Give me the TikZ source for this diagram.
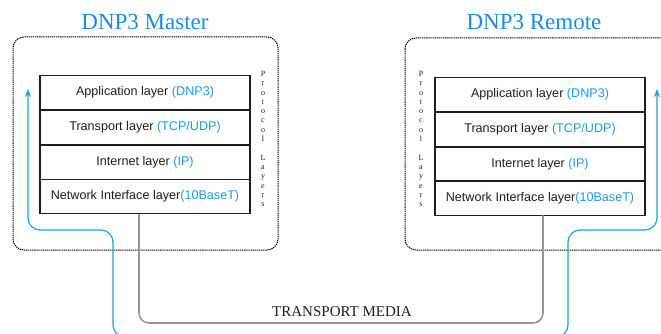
\documentclass[tikz,border=0pt]{standalone}
\usepackage{fontspec}
\setmainfont{Liberation Serif}
\newfontfamily\arialf{Liberation Sans}
\usetikzlibrary{arrows.meta}
\definecolor{ttlblue}{RGB}{25,140,228}
\definecolor{txtblue}{RGB}{30,150,245}
\definecolor{lineblue}{RGB}{25,160,240}
\definecolor{medgray}{RGB}{150,150,150}
\definecolor{dk}{RGB}{30,30,30}
\tikzset{
  layerbox/.style={draw=dk, line width=1.1pt, minimum width=210pt, minimum height=34.5pt, inner sep=0pt, outer sep=0pt, font=\arialf\fontsize{12.6}{14}\selectfont, text=dk},
  hostbox/.style={draw=black, line width=1pt, dash pattern=on 1.3pt off 0.8pt, rounded corners=11pt},
  titletext/.style={font=\fontsize{23}{26}\selectfont, text=ttlblue},
  protolabel/.style={font=\fontsize{8}{9.3}\selectfont, align=center, text=dk, inner sep=0pt},
  bluepath/.style={draw=lineblue, line width=1.2pt, rounded corners=12pt},
  mediapath/.style={draw=medgray, line width=1.6pt, rounded corners=10pt},
}
\newcommand{\bl}[1]{\textcolor{txtblue}{#1}}
\begin{document}
\begin{tikzpicture}[x=1pt,y=-1pt]
\useasboundingbox (0,0) rectangle (661,334);
% host boxes
\draw[hostbox] (13,37) rectangle (278,250);
\draw[hostbox] (405,38) rectangle (700,250);
% titles
\node[titletext] (tm) at (145,22) {DNP3 Master};
\node[titletext] (tr) at (534,22) {DNP3 Remote};
% left stack
\node[layerbox] (lapp) at (145,92.5) {Application layer \bl{(DNP3)}};
\node[layerbox] (ltra) at (145,127.5) {Transport layer \bl{(TCP/UDP)}};
\node[layerbox] (lint) at (145,162.5) {Internet layer \bl{(IP)}};
\node[layerbox] (lnet) at (145,196.5) {Network Interface layer\bl{(10BaseT)}};
% right stack
\node[layerbox] (rapp) at (540,94.5) {Application layer \bl{(DNP3)}};
\node[layerbox] (rtra) at (540,129.5) {Transport layer \bl{(TCP/UDP)}};
\node[layerbox] (rint) at (540,164.5) {Internet layer \bl{(IP)}};
\node[layerbox] (rnet) at (540,198) {Network Interface layer\bl{(10BaseT)}};
% protocol layers labels
\node[protolabel, anchor=north] (lpl) at (263,71) {P\\r\\o\\t\\o\\c\\o\\l\\[9.3pt]L\\a\\y\\e\\r\\s};
\node[protolabel, anchor=north] (rpl) at (421,71) {P\\r\\o\\t\\o\\c\\o\\l\\[9.3pt]L\\a\\y\\e\\r\\s};
% transport media
\coordinate (lm) at (139,0);
\coordinate (rm) at (543,0);
\draw[mediapath] (lnet.south -| lm) -- (139,323) -- (543,323) -- (rnet.south -| rm);
\node[font=\fontsize{15}{17}\selectfont, text=dk] (tmedia) at (342,312) {TRANSPORT MEDIA};
% blue data paths
\coordinate (lbs) at (140,337);
\coordinate (lbt) at (28,89);
\coordinate (rbs) at (545,337);
\coordinate (rbt) at (657,89);
\draw[bluepath, -{Stealth[length=8pt,width=6pt]}] (lbs) -- (113,337) -- (113,230) -- (28,230) -- (lbt);
\draw[bluepath, -{Stealth[length=8pt,width=6pt]}] (rbs) -- (568,337) -- (568,230) -- (657,230) -- (rbt);
\end{tikzpicture}
\end{document}
